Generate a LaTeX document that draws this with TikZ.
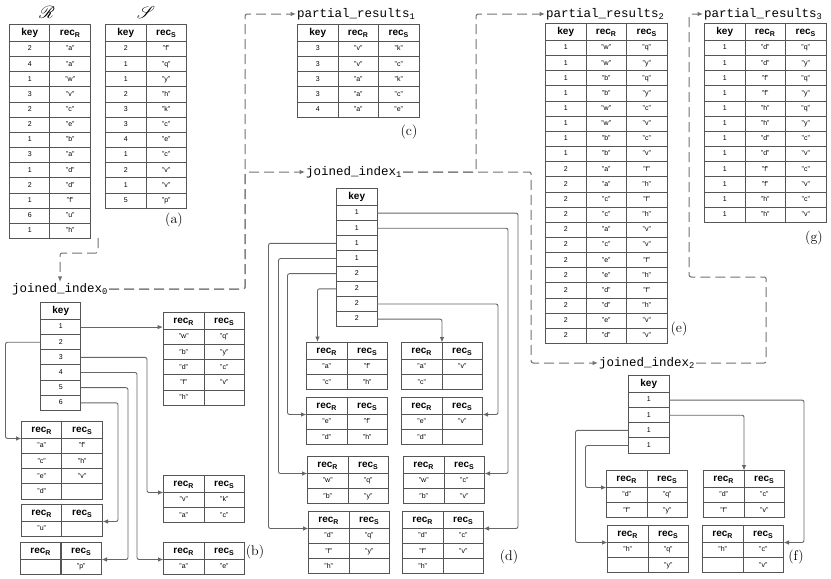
\documentclass[tikz,border=0pt]{standalone}
\usepackage{fontspec}
\setsansfont{Liberation Sans}
\setmonofont{Liberation Mono}
\usepackage{mathrsfs}
\usetikzlibrary{matrix, arrows.meta, calc}
\definecolor{gridGray}{HTML}{555555}
\definecolor{linkGray}{HTML}{666666}
\definecolor{flowGray}{HTML}{727272}

\begin{document}
\begin{tikzpicture}[
    x=1pt, y=-1pt,
    >={Latex[length=5.5pt,width=4.5pt]},
    cellTable/.style={
        matrix of nodes, nodes in empty cells, anchor=north west,
        inner sep=0pt, outer sep=0pt,
        column sep=-1pt, row sep=-1pt,
        nodes={draw=gridGray, line width=1pt, minimum width=40.5pt,
            minimum height=15.15pt, inner sep=0pt, anchor=center,
            text height=5pt, text depth=1.3pt,
            font=\sffamily\fontsize{7}{8}\selectfont},
        row 1/.style={nodes={minimum height=17pt, text height=7.4pt, text depth=2pt,
            font=\sffamily\bfseries\fontsize{10}{11}\selectfont}}
    },
    linkLine/.style={draw=linkGray, line width=0.9pt, rounded corners=2pt},
    flowLine/.style={draw=flowGray, line width=1pt, dash pattern=on 10pt off 5pt,
        rounded corners=2pt},
    idxLabel/.style={font=\ttfamily\fontsize{12.5}{14}\selectfont, inner sep=1pt, anchor=west},
    partTag/.style={font=\fontsize{14}{16}\selectfont, inner sep=0pt},
    relName/.style={font=\fontsize{18}{20}\selectfont, inner sep=0pt}
]
\useasboundingbox (0,0) rectangle (831,579);

% (a) input relations
\node[relName] (nameR) at (47,12) {$\mathscr{R}$};
\node[relName] (nameS) at (146,12) {$\mathscr{S}$};

\matrix[cellTable] (tabR) at (9,24) {
key & rec\textsubscript{R} \\
2 & "a" \\ 4 & "a" \\ 1 & "w" \\ 3 & "v" \\ 2 & "c" \\ 2 & "e" \\ 1 & "b" \\
3 & "a" \\ 1 & "d" \\ 2 & "d" \\ 1 & "f" \\ 6 & "u" \\ 1 & "h" \\
};
\matrix[cellTable] (tabS) at (105,24) {
key & rec\textsubscript{S} \\
2 & "f" \\ 1 & "q" \\ 1 & "y" \\ 2 & "h" \\ 3 & "k" \\ 3 & "c" \\ 4 & "e" \\
1 & "c" \\ 2 & "v" \\ 1 & "v" \\ 5 & "p" \\
};
\node[partTag] (tagA) at (174,220) {(a)};
\coordinate (rsOut) at (98,238);

% (b) joined_index_0
\node[idxLabel] (ji0) at (11,289) {joined\_index\textsubscript{0}};
\matrix[cellTable] (ki0) at (40,302) {
key \\ 1 \\ 2 \\ 3 \\ 4 \\ 5 \\ 6 \\
};
\matrix[cellTable] (b1) at (163,312) {
rec\textsubscript{R} & rec\textsubscript{S} \\
"w" & "q" \\ "b" & "y" \\ "d" & "c" \\ "f" & "v" \\ "h" & \\
};
\matrix[cellTable] (b2) at (21,421) {
rec\textsubscript{R} & rec\textsubscript{S} \\
"a" & "f" \\ "c" & "h" \\ "e" & "v" \\ "d" & \\
};
\matrix[cellTable] (b3) at (163,475) {
rec\textsubscript{R} & rec\textsubscript{S} \\
"v" & "k" \\ "a" & "c" \\
};
\matrix[cellTable] (b6) at (21,504) {
rec\textsubscript{R} & rec\textsubscript{S} \\
"u" & \\
};
\matrix[cellTable] (b5) at (20,542) {
rec\textsubscript{R} & rec\textsubscript{S} \\
 & "p" \\
};
\matrix[cellTable] (b4) at (163,542) {
rec\textsubscript{R} & rec\textsubscript{S} \\
"a" & "e" \\
};
\node[partTag] (tagB) at (255,552) {(b)};

\draw[->, linkLine] (ki0-2-1.east) -- (ki0-2-1.east -| b1.west);
\draw[->, linkLine] (ki0-3-1.west) -- ++(-35,0) |- (b2-2-1.north west);
\draw[->, linkLine] (ki0-4-1.east) -- ++(66,0) |- (b3-2-1.north west);
\draw[->, linkLine] (ki0-5-1.east) -- ++(56,0) |- (b4-2-1.north west);
\draw[->, linkLine] (ki0-6-1.east) -- ++(47,0) |- (b5-2-2.north east);
\draw[->, linkLine] (ki0-7-1.east) -- ++(37,0) |- (b6-2-2.north east);

% (c) partial_results_1
\node[idxLabel] (pr1Lbl) at (296,14) {partial\_results\textsubscript{1}};
\matrix[cellTable] (pr1) at (297,24) {
key & rec\textsubscript{R} & rec\textsubscript{S} \\
3 & "v" & "k" \\ 3 & "v" & "c" \\ 3 & "a" & "k" \\ 3 & "a" & "c" \\ 4 & "a" & "e" \\
};
\node[partTag] (tagC) at (409,132) {(c)};

% (d) joined_index_1
\node[idxLabel] (ji1) at (305,172) {joined\_index\textsubscript{1}};
\matrix[cellTable] (ki1) at (336,188) {
key \\ 1 \\ 1 \\ 1 \\ 1 \\ 2 \\ 2 \\ 2 \\ 2 \\
};
\matrix[cellTable] (d6) at (306,342) {
rec\textsubscript{R} & rec\textsubscript{S} \\
"a" & "f" \\ "c" & "h" \\
};
\matrix[cellTable] (d8) at (401,342) {
rec\textsubscript{R} & rec\textsubscript{S} \\
"a" & "v" \\ "c" & \\
};
\matrix[cellTable] (d5) at (306,397) {
rec\textsubscript{R} & rec\textsubscript{S} \\
"e" & "f" \\ "d" & "h" \\
};
\matrix[cellTable] (d7) at (401,397) {
rec\textsubscript{R} & rec\textsubscript{S} \\
"e" & "v" \\ "d" & \\
};
\matrix[cellTable] (d4) at (307,456) {
rec\textsubscript{R} & rec\textsubscript{S} \\
"w" & "q" \\ "b" & "y" \\
};
\matrix[cellTable] (d2) at (403,456) {
rec\textsubscript{R} & rec\textsubscript{S} \\
"w" & "c" \\ "b" & "v" \\
};
\matrix[cellTable] (d3) at (308,511) {
rec\textsubscript{R} & rec\textsubscript{S} \\
"d" & "q" \\ "f" & "y" \\ "h" & \\
};
\matrix[cellTable] (d1) at (402,511) {
rec\textsubscript{R} & rec\textsubscript{S} \\
"d" & "c" \\ "f" & "v" \\ "h" & \\
};
\node[partTag] (tagD) at (509,557) {(d)};

\draw[->, linkLine] (ki1-2-1.east) -- ++(141,0) |- (d1-2-2.north east);
\draw[->, linkLine] (ki1-3-1.east) -- ++(131,0) |- (d2-2-2.north east);
\draw[->, linkLine] (ki1-4-1.west) -- ++(-68,0) |- (d3-2-1.north west);
\draw[->, linkLine] (ki1-5-1.west) -- ++(-58,0) |- (d4-2-1.north west);
\draw[->, linkLine] (ki1-6-1.west) -- ++(-49,0) |- (d5-2-1.north west);
\draw[->, linkLine] (ki1-7-1.west) -- ++(-19,0) coordinate (d6In) -- (d6In |- d6.north);
\draw[->, linkLine] (ki1-8-1.east) -- ++(121,0) |- (d7-2-2.north east);
\draw[->, linkLine] (ki1-9-1.east) -| (d8-1-2.north west);

% (e) partial_results_2
\node[idxLabel] (pr2Lbl) at (545,14) {partial\_results\textsubscript{2}};
\matrix[cellTable] (pr2) at (545,23) {
key & rec\textsubscript{R} & rec\textsubscript{S} \\
1 & "w" & "q" \\ 1 & "w" & "y" \\ 1 & "b" & "q" \\ 1 & "b" & "y" \\
1 & "w" & "c" \\ 1 & "w" & "v" \\ 1 & "b" & "c" \\ 1 & "b" & "v" \\
2 & "a" & "f" \\ 2 & "a" & "h" \\ 2 & "c" & "f" \\ 2 & "c" & "h" \\
2 & "a" & "v" \\ 2 & "c" & "v" \\ 2 & "e" & "f" \\ 2 & "e" & "h" \\
2 & "d" & "f" \\ 2 & "d" & "h" \\ 2 & "e" & "v" \\ 2 & "d" & "v" \\
};
\node[partTag] (tagE) at (679,329) {(e)};

% (g) partial_results_3
\node[idxLabel] (pr3Lbl) at (703,14) {partial\_results\textsubscript{3}};
\matrix[cellTable] (pr3) at (704,23) {
key & rec\textsubscript{R} & rec\textsubscript{S} \\
1 & "d" & "q" \\ 1 & "d" & "y" \\ 1 & "f" & "q" \\ 1 & "f" & "y" \\
1 & "h" & "q" \\ 1 & "h" & "y" \\ 1 & "d" & "c" \\ 1 & "d" & "v" \\
1 & "f" & "c" \\ 1 & "f" & "v" \\ 1 & "h" & "c" \\ 1 & "h" & "v" \\
};
\node[partTag] (tagG) at (814,238) {(g)};

% (f) joined_index_2
\node[idxLabel] (ji2) at (598,363) {joined\_index\textsubscript{2}};
\matrix[cellTable] (ki2) at (628,375) {
key \\ 1 \\ 1 \\ 1 \\ 1 \\
};
\matrix[cellTable] (f4) at (606,470) {
rec\textsubscript{R} & rec\textsubscript{S} \\
"d" & "q" \\ "f" & "y" \\
};
\matrix[cellTable] (f2) at (703,470) {
rec\textsubscript{R} & rec\textsubscript{S} \\
"d" & "c" \\ "f" & "v" \\
};
\matrix[cellTable] (f3) at (607,525) {
rec\textsubscript{R} & rec\textsubscript{S} \\
"h" & "q" \\ & "y" \\
};
\matrix[cellTable] (f1) at (702,525) {
rec\textsubscript{R} & rec\textsubscript{S} \\
"h" & "c" \\ & "v" \\
};
\node[partTag] (tagF) at (796,557) {(f)};

\draw[->, linkLine] (ki2-2-1.east) -- ++(135,0) |- (f1-2-2.north east);
\draw[->, linkLine] (ki2-3-1.east) -| (f2-1-2.north west);
\draw[->, linkLine] (ki2-4-1.west) -- ++(-53,0) |- (f3-2-1.north west);
\draw[->, linkLine] (ki2-5-1.west) -- ++(-43,0) |- (f4-2-1.north west);

% dataflow between the stages
\draw[->, flowLine] (rsOut) -- ++(0,15) -| (ji0.north);
\draw[->, flowLine] (ji0.east) -- ++(136,0) |- (pr1Lbl.west);
\draw[->, flowLine] (ji0.east) -- ++(136,0) |- (ji1.west);
\draw[->, flowLine] (ji1.east) -- ++(73,0) |- (pr2Lbl.west);
\draw[->, flowLine] (ji1.east) -- ++(128,0) |- (ji2.west);
\draw[->, flowLine] (ji2.east) -- ++(70,0) -- ++(0,-86) -- ++(-77,0) |- (pr3Lbl.west);

\end{tikzpicture}
\end{document}
